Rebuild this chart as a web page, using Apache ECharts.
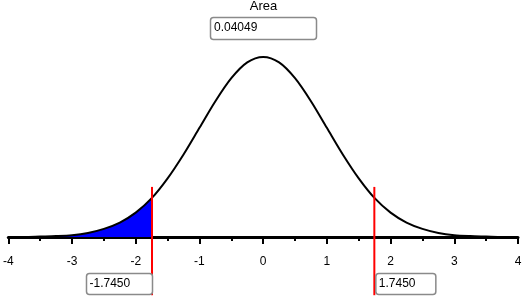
<!DOCTYPE html>
<html><head><meta charset="utf-8">
<script src="https://cdn.jsdelivr.net/npm/echarts@6/dist/echarts.min.js"></script>
<style>html,body{margin:0;padding:0;background:#fff}#c{width:527px;height:305px}</style>
</head><body><div id="c"></div>
<script>
// Curve values (x, density)
const xs = [-4,-3.75,-3.5,-3.25,-3,-2.75,-2.5,-2.25,-2,-1.75,-1.5,-1.25,-1,-0.75,-0.5,-0.25,0,0.25,0.5,0.75,1,1.25,1.5,1.75,2,2.25,2.5,2.75,3,3.25,3.5,3.75,4];
const ys = [0.000,0.000,0.001,0.002,0.004,0.009,0.018,0.032,0.054,0.086,0.130,0.183,0.242,0.301,0.352,0.387,0.399,0.387,0.352,0.301,0.242,0.183,0.130,0.086,0.054,0.032,0.018,0.009,0.004,0.002,0.001,0.000,0.000];
// shaded tail
const tailXs = [-4,-3.75,-3.5,-3.25,-3,-2.75,-2.5,-2.25,-2,-1.745];
const tailYs = [0.000,0.000,0.001,0.002,0.004,0.009,0.018,0.032,0.054,0.087];
const cutoffs = [-1.745, 1.745];
const cutoffLabels = ['-1.7450', '1.7450'];
const areaTitle = 'Area';
const areaValue = '0.04049';
const xTicks = [-4,-3,-2,-1,0,1,2,3,4];
const redTop = 0.111, redBottom = -0.129;

const chart = echarts.init(document.getElementById('c'), null, {renderer:'canvas'});
const font = 'Liberation Sans, Arial, sans-serif';
const redSeries = cutoffs.map(c=>({
  type:'line', data:[[c, redBottom],[c, redTop]], symbol:'none', clip:false, z:5,
  lineStyle:{color:'#ff0000', width:2}
}));
chart.setOption({
  animation:false,
  grid:{left:8, right:9, top:56.5, bottom:68},
  xAxis:{type:'value', min:xTicks[0], max:xTicks[xTicks.length-1], interval:1,
    axisLine:{show:true, onZero:false, lineStyle:{color:'#000', width:3}},
    axisTick:{show:true, length:7, lineStyle:{color:'#000', width:2}},
    minorTick:{show:true, splitNumber:2, length:4, lineStyle:{color:'#000', width:2}},
    splitLine:{show:false},
    axisLabel:{color:'#000', fontSize:12, fontFamily:font, margin:19}
  },
  yAxis:{type:'value', min:0, max:0.4, show:false, splitLine:{show:false}},
  series:[
    {type:'line', data:tailXs.map((x,i)=>[x,tailYs[i]]), smooth:0.3, symbol:'none',
     lineStyle:{width:0}, areaStyle:{color:'#0000ff', opacity:1}, z:2},
    {type:'line', data:xs.map((x,i)=>[x,ys[i]]), smooth:0.3, symbol:'none', clip:false,
     lineStyle:{color:'#000', width:2}, z:3}
  ].concat(redSeries)
});
const g = [];
g.push({type:'text', left:'center', top:0, style:{text:areaTitle, font:'13px '+font, fill:'#000'}, z:10});
g.push({type:'rect', shape:{x:210.5,y:17.5,width:106,height:22,r:3}, style:{fill:'#fff', stroke:'#8a8a8a', lineWidth:1.5}, z:10});
g.push({type:'text', x:214, y:22, style:{text:areaValue, font:'12px '+font, fill:'#000'}, z:11});
cutoffs.forEach((c,i)=>{
  const px = chart.convertToPixel({gridIndex:0},[c,0])[0];
  const w = i===0 ? 66 : 60;
  const x0 = i===0 ? px - w + 0.5 : px + 1.5;
  g.push({type:'rect', shape:{x:x0, y:273.5, width:w, height:21, r:3}, style:{fill:'#fff', stroke:'#8a8a8a', lineWidth:1.5}, z:10});
  g.push({type:'text', x:x0+3, y:278, style:{text:cutoffLabels[i], font:'12px '+font, fill:'#000'}, z:11});
});
chart.setOption({graphic:g});
</script></body></html>
